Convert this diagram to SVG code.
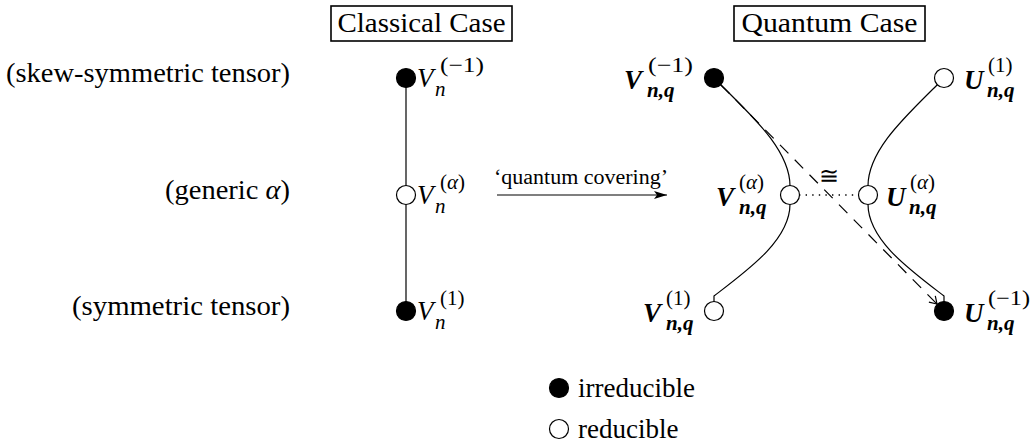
<svg xmlns="http://www.w3.org/2000/svg" width="1033" height="442" viewBox="0 0 1033 442" font-family="'Liberation Serif', 'Times New Roman', serif">
<style>
text{font-family:"Liberation Serif","Times New Roman",serif;fill:#000}
.lbl{font-size:27px}
.it{font-style:italic}
.bi{font-style:italic;font-weight:bold}
.sc{font-size:21px}
.box{fill:none;stroke:#000;stroke-width:1.6}
.full{fill:#000;stroke:#000;stroke-width:1.2}
.open{fill:#fff;stroke:#000;stroke-width:1.2}
.edge{fill:none;stroke:#000;stroke-width:1.2}
</style>
<defs>
<marker id="ah" markerUnits="userSpaceOnUse" markerWidth="16" markerHeight="12" refX="14" refY="6" orient="auto" viewBox="0 0 16 12">
<path d="M1,2 L14,6 L1,10 L4,6 z" fill="#000"/>
</marker>
<marker id="ah2" markerUnits="userSpaceOnUse" markerWidth="12" markerHeight="12" refX="10" refY="6" orient="auto" viewBox="0 0 12 12">
<path d="M3,1.5 L10,6 L3,10.5" fill="none" stroke="#000" stroke-width="1.2"/>
</marker>
</defs>

<g id="titles">
<rect class="box" x="331" y="6" width="181" height="35"/>
<text class="lbl" x="421.5" y="32" text-anchor="middle" textLength="168" lengthAdjust="spacingAndGlyphs">Classical Case</text>
<rect class="box" x="734" y="6" width="191" height="35"/>
<text class="lbl" x="829.5" y="32" text-anchor="middle" textLength="176" lengthAdjust="spacingAndGlyphs">Quantum Case</text>
</g>

<g id="side-labels">
<text class="lbl" x="290" y="82" text-anchor="end" textLength="284" lengthAdjust="spacingAndGlyphs">(skew-symmetric tensor)</text>
<text class="lbl" x="290" y="199" text-anchor="end" textLength="125" lengthAdjust="spacingAndGlyphs">(generic <tspan class="it">α</tspan>)</text>
<text class="lbl" x="290" y="315" text-anchor="end" textLength="218" lengthAdjust="spacingAndGlyphs">(symmetric tensor)</text>
</g>

<g id="connectors">
<line class="edge" x1="406" y1="87" x2="406" y2="186"/>
<line class="edge" x1="406" y1="204" x2="406" y2="302"/>
<path class="edge" d="M720,84 C752,116 790,150 790,186"/>
<path class="edge" d="M790,204 C790,240 748,270 714,296 L714,302"/>
<path class="edge" d="M938,84 C906,116 868,150 868,186"/>
<path class="edge" d="M868,204 C868,240 910,270 944,296 L944,302"/>
<line class="edge" x1="721" y1="85" x2="937" y2="304" stroke-dasharray="12,9" marker-end="url(#ah2)"/>
<line x1="799" y1="195" x2="859" y2="195" stroke="#000" stroke-width="1.4" stroke-dasharray="1.4,5.2"/>
<text x="829" y="184" text-anchor="middle" style="font-size:24px">≅</text>
<line class="edge" x1="497" y1="195" x2="667" y2="195" marker-end="url(#ah)"/>
<text x="581" y="184" text-anchor="middle" style="font-size:20px" textLength="174" lengthAdjust="spacingAndGlyphs">‘quantum covering’</text>
</g>

<g id="c-top">
<circle class="full" cx="406" cy="78" r="9.5"/>
<text class="lbl it" x="417" y="87">V</text>
<text class="sc" x="440" y="72" textLength="44" lengthAdjust="spacingAndGlyphs">(−1)</text>
<text class="sc it" x="435" y="96">n</text>
</g>
<g id="c-mid">
<circle class="open" cx="406" cy="195" r="9.5"/>
<text class="lbl it" x="417" y="204">V</text>
<text class="sc" x="440" y="189">(<tspan class="it">α</tspan>)</text>
<text class="sc it" x="435" y="213">n</text>
</g>
<g id="c-bot">
<circle class="full" cx="406" cy="311" r="9.5"/>
<text class="lbl it" x="417" y="320">V</text>
<text class="sc" x="440" y="305">(1)</text>
<text class="sc it" x="435" y="329">n</text>
</g>

<g id="q-v-top">
<circle class="full" cx="714" cy="78" r="9.5"/>
<text class="lbl bi" x="624" y="89">V</text>
<text class="sc" x="648" y="72" textLength="45" lengthAdjust="spacingAndGlyphs">(−1)</text>
<text class="sc bi" x="647" y="97">n,q</text>
</g>
<g id="q-v-mid">
<circle class="open" cx="790" cy="195" r="9.5"/>
<text class="lbl bi" x="716" y="206">V</text>
<text class="sc" x="739" y="189">(<tspan class="it">α</tspan>)</text>
<text class="sc bi" x="739" y="214">n,q</text>
</g>
<g id="q-v-bot">
<circle class="open" cx="714" cy="311" r="9.5"/>
<text class="lbl bi" x="643" y="322">V</text>
<text class="sc" x="666" y="305">(1)</text>
<text class="sc bi" x="666" y="330">n,q</text>
</g>
<g id="q-u-top">
<circle class="open" cx="944" cy="78" r="9.5"/>
<text class="lbl bi" x="964" y="89">U</text>
<text class="sc" x="988" y="72">(1)</text>
<text class="sc bi" x="987" y="97">n,q</text>
</g>
<g id="q-u-mid">
<circle class="open" cx="868" cy="195" r="9.5"/>
<text class="lbl bi" x="886" y="206">U</text>
<text class="sc" x="910" y="189">(<tspan class="it">α</tspan>)</text>
<text class="sc bi" x="909" y="214">n,q</text>
</g>
<g id="q-u-bot">
<circle class="full" cx="944" cy="311" r="9.5"/>
<text class="lbl bi" x="964" y="322">U</text>
<text class="sc" x="988" y="305" textLength="42" lengthAdjust="spacingAndGlyphs">(−1)</text>
<text class="sc bi" x="987" y="330">n,q</text>
</g>

<g id="legend">
<circle class="full" cx="559" cy="388" r="9.5"/>
<text class="lbl" x="578" y="397">irreducible</text>
<circle class="open" cx="559" cy="429" r="9.5"/>
<text class="lbl" x="578" y="438">reducible</text>
</g>
</svg>
